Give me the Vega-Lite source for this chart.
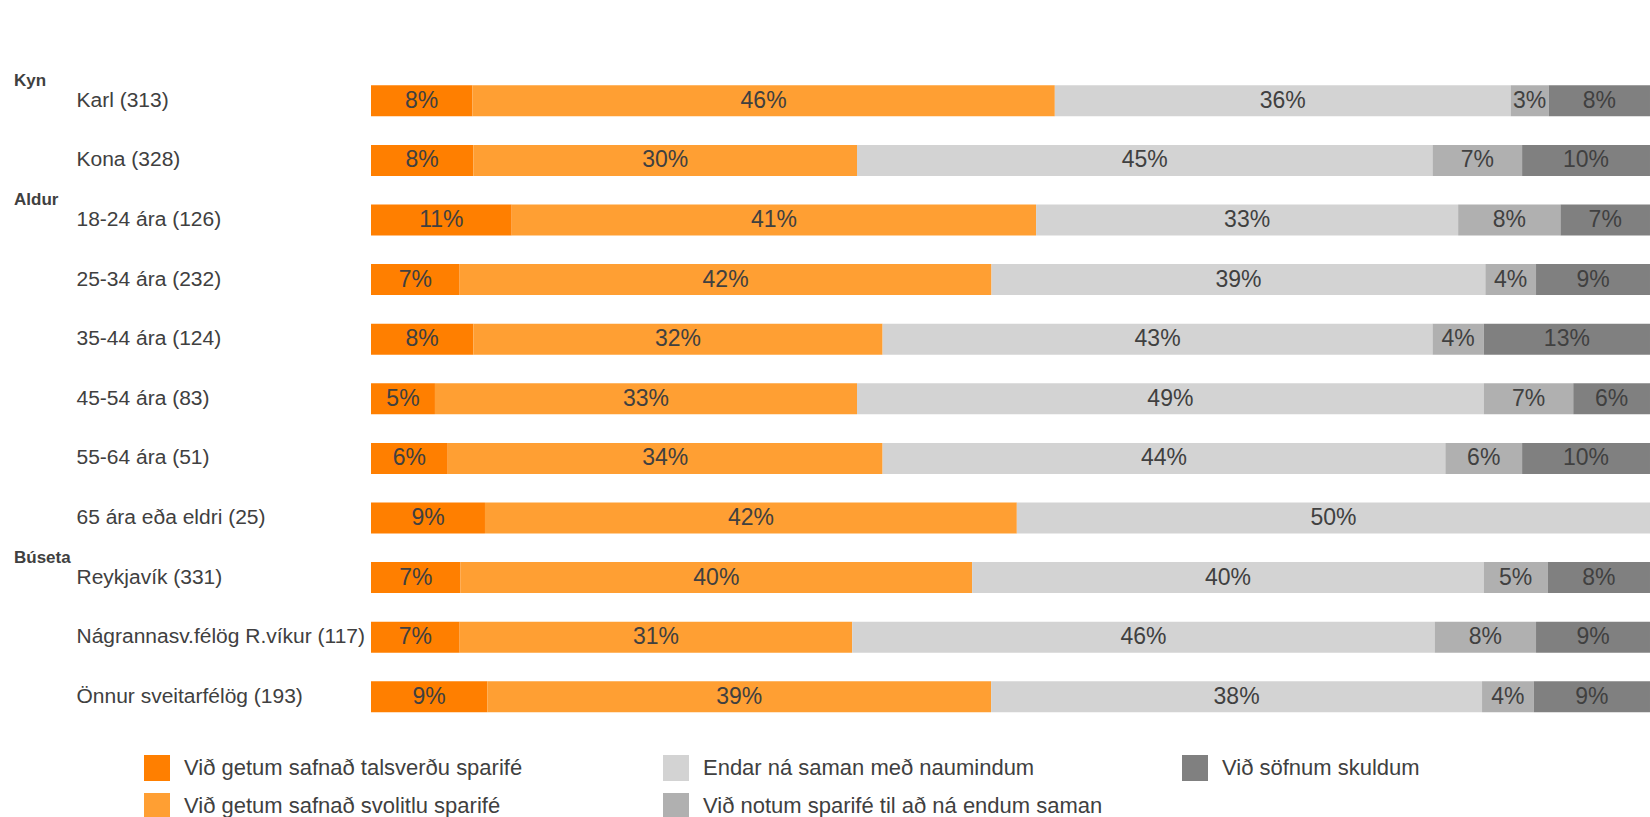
{
  "$schema": "https://vega.github.io/schema/vega-lite/v6.json",
  "padding": {"left": 14, "top": 71, "right": 0, "bottom": 0},
  "autosize": {"type": "pad"},
  "width": 1279,
  "height": 655.6,
  "config": {
    "view": {"stroke": null},
    "font": "Liberation Sans",
    "text": {"font": "Liberation Sans"}
  },
  "data": {
    "values": [
      {"grp": "Kyn", "g": "Karl (313)", "k": 1, "p": 0.08},
      {"grp": "Kyn", "g": "Karl (313)", "k": 2, "p": 0.46},
      {"grp": "Kyn", "g": "Karl (313)", "k": 3, "p": 0.36},
      {"grp": "Kyn", "g": "Karl (313)", "k": 4, "p": 0.03},
      {"grp": "Kyn", "g": "Karl (313)", "k": 5, "p": 0.08},
      {"grp": "Kyn", "g": "Kona (328)", "k": 1, "p": 0.08},
      {"grp": "Kyn", "g": "Kona (328)", "k": 2, "p": 0.30},
      {"grp": "Kyn", "g": "Kona (328)", "k": 3, "p": 0.45},
      {"grp": "Kyn", "g": "Kona (328)", "k": 4, "p": 0.07},
      {"grp": "Kyn", "g": "Kona (328)", "k": 5, "p": 0.10},
      {"grp": "Aldur", "g": "18-24 ára (126)", "k": 1, "p": 0.11},
      {"grp": "Aldur", "g": "18-24 ára (126)", "k": 2, "p": 0.41},
      {"grp": "Aldur", "g": "18-24 ára (126)", "k": 3, "p": 0.33},
      {"grp": "Aldur", "g": "18-24 ára (126)", "k": 4, "p": 0.08},
      {"grp": "Aldur", "g": "18-24 ára (126)", "k": 5, "p": 0.07},
      {"grp": "Aldur", "g": "25-34 ára (232)", "k": 1, "p": 0.07},
      {"grp": "Aldur", "g": "25-34 ára (232)", "k": 2, "p": 0.42},
      {"grp": "Aldur", "g": "25-34 ára (232)", "k": 3, "p": 0.39},
      {"grp": "Aldur", "g": "25-34 ára (232)", "k": 4, "p": 0.04},
      {"grp": "Aldur", "g": "25-34 ára (232)", "k": 5, "p": 0.09},
      {"grp": "Aldur", "g": "35-44 ára (124)", "k": 1, "p": 0.08},
      {"grp": "Aldur", "g": "35-44 ára (124)", "k": 2, "p": 0.32},
      {"grp": "Aldur", "g": "35-44 ára (124)", "k": 3, "p": 0.43},
      {"grp": "Aldur", "g": "35-44 ára (124)", "k": 4, "p": 0.04},
      {"grp": "Aldur", "g": "35-44 ára (124)", "k": 5, "p": 0.13},
      {"grp": "Aldur", "g": "45-54 ára (83)", "k": 1, "p": 0.05},
      {"grp": "Aldur", "g": "45-54 ára (83)", "k": 2, "p": 0.33},
      {"grp": "Aldur", "g": "45-54 ára (83)", "k": 3, "p": 0.49},
      {"grp": "Aldur", "g": "45-54 ára (83)", "k": 4, "p": 0.07},
      {"grp": "Aldur", "g": "45-54 ára (83)", "k": 5, "p": 0.06},
      {"grp": "Aldur", "g": "55-64 ára (51)", "k": 1, "p": 0.06},
      {"grp": "Aldur", "g": "55-64 ára (51)", "k": 2, "p": 0.34},
      {"grp": "Aldur", "g": "55-64 ára (51)", "k": 3, "p": 0.44},
      {"grp": "Aldur", "g": "55-64 ára (51)", "k": 4, "p": 0.06},
      {"grp": "Aldur", "g": "55-64 ára (51)", "k": 5, "p": 0.10},
      {"grp": "Aldur", "g": "65 ára eða eldri (25)", "k": 1, "p": 0.09},
      {"grp": "Aldur", "g": "65 ára eða eldri (25)", "k": 2, "p": 0.42},
      {"grp": "Aldur", "g": "65 ára eða eldri (25)", "k": 3, "p": 0.50},
      {"grp": "Búseta", "g": "Reykjavík (331)", "k": 1, "p": 0.07},
      {"grp": "Búseta", "g": "Reykjavík (331)", "k": 2, "p": 0.40},
      {"grp": "Búseta", "g": "Reykjavík (331)", "k": 3, "p": 0.40},
      {"grp": "Búseta", "g": "Reykjavík (331)", "k": 4, "p": 0.05},
      {"grp": "Búseta", "g": "Reykjavík (331)", "k": 5, "p": 0.08},
      {"grp": "Búseta", "g": "Nágrannasv.félög R.víkur (117)", "k": 1, "p": 0.07},
      {"grp": "Búseta", "g": "Nágrannasv.félög R.víkur (117)", "k": 2, "p": 0.31},
      {"grp": "Búseta", "g": "Nágrannasv.félög R.víkur (117)", "k": 3, "p": 0.46},
      {"grp": "Búseta", "g": "Nágrannasv.félög R.víkur (117)", "k": 4, "p": 0.08},
      {"grp": "Búseta", "g": "Nágrannasv.félög R.víkur (117)", "k": 5, "p": 0.09},
      {"grp": "Búseta", "g": "Önnur sveitarfélög (193)", "k": 1, "p": 0.09},
      {"grp": "Búseta", "g": "Önnur sveitarfélög (193)", "k": 2, "p": 0.39},
      {"grp": "Búseta", "g": "Önnur sveitarfélög (193)", "k": 3, "p": 0.38},
      {"grp": "Búseta", "g": "Önnur sveitarfélög (193)", "k": 4, "p": 0.04},
      {"grp": "Búseta", "g": "Önnur sveitarfélög (193)", "k": 5, "p": 0.09}
    ]
  },
  "encoding": {
    "y": {
      "field": "g",
      "type": "nominal",
      "sort": null,
      "title": null,
      "scale": {"paddingInner": 0.48, "paddingOuter": 0.24},
      "axis": {
        "domain": false,
        "ticks": false,
        "tickSize": 0,
        "labelAlign": "left",
        "labelPadding": 295,
        "labelFontSize": 21,
        "labelColor": "#404040",
        "labelFont": "Liberation Sans",
        "labelLimit": 400
      }
    }
  },
  "layer": [
    {
      "transform": [
        {"lookup": "k", "from": {"data": {"values": [
          {"k": 1, "c": "Við getum safnað talsverðu sparifé"},
          {"k": 2, "c": "Við getum safnað svolitlu sparifé"},
          {"k": 3, "c": "Endar ná saman með naumindum"},
          {"k": 4, "c": "Við notum sparifé til að ná endum saman"},
          {"k": 5, "c": "Við söfnum skuldum"}
        ]}, "key": "k", "fields": ["c"]}},
        {"stack": "p", "groupby": ["g"], "sort": [{"field": "k", "order": "ascending"}], "offset": "normalize", "as": ["x0", "x1"]},
        {"calculate": "(datum.x0 + datum.x1) / 2", "as": "xm"}
      ],
      "layer": [
        {
          "mark": {"type": "bar"},
          "encoding": {
            "x": {"field": "x0", "type": "quantitative", "scale": {"domain": [0, 1], "nice": false, "zero": false}, "axis": null},
            "x2": {"field": "x1"},
            "color": {
              "field": "c",
              "type": "nominal",
              "scale": {
                "domain": ["Við getum safnað talsverðu sparifé", "Endar ná saman með naumindum", "Við söfnum skuldum", "Við getum safnað svolitlu sparifé", "Við notum sparifé til að ná endum saman"],
                "range": ["#FF7F00", "#D3D3D3", "#808080", "#FF9F33", "#B0B0B0"]
              },
              "legend": {
                "title": null,
                "orient": "none",
                "legendX": -227,
                "legendY": 684,
                "columns": 3,
                "direction": "horizontal",
                "gridAlign": "all",
                "columnPadding": 79,
                "rowPadding": 12,
                "symbolType": "square",
                "symbolSize": 676,
                "symbolStrokeWidth": 0,
                "labelOffset": 14,
                "labelFontSize": 22,
                "labelColor": "#404040",
                "labelFont": "Liberation Sans",
                "labelLimit": 500
              }
            }
          }
        },
        {
          "mark": {"type": "text", "fontSize": 23, "color": "#404040", "font": "Liberation Sans"},
          "encoding": {
            "x": {"field": "xm", "type": "quantitative"},
            "text": {"field": "p", "type": "quantitative", "format": ".0%"}
          }
        }
      ]
    },
    {
      "data": {"values": [
        {"grp": "Kyn", "g": "Karl (313)"},
        {"grp": "Aldur", "g": "18-24 ára (126)"},
        {"grp": "Búseta", "g": "Reykjavík (331)"}
      ]},
      "mark": {"type": "text", "align": "left", "baseline": "middle", "dy": -19.5, "fontSize": 17, "fontWeight": "bold", "color": "#404040", "font": "Liberation Sans"},
      "encoding": {
        "x": {"datum": -0.2791, "type": "quantitative"},
        "text": {"field": "grp"}
      }
    }
  ]
}
